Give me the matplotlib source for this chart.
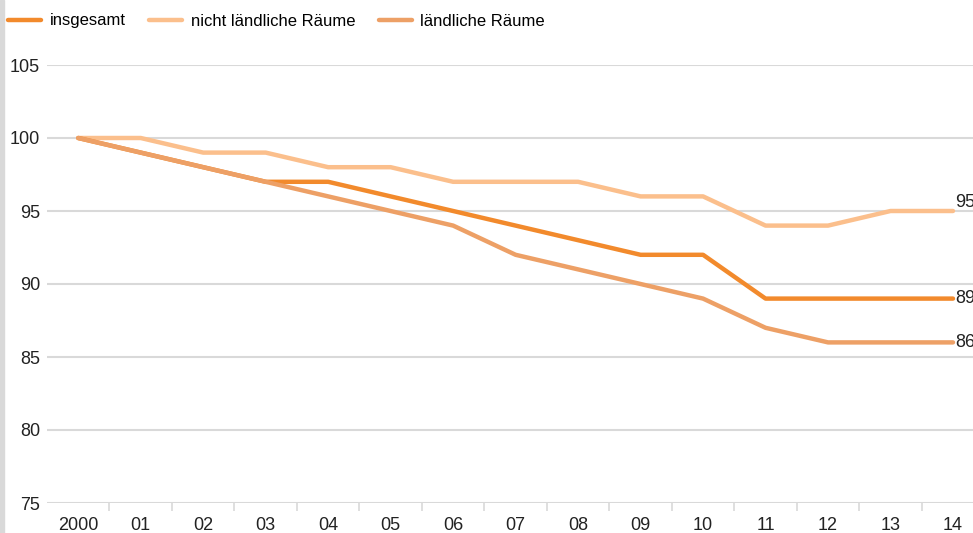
import matplotlib.pyplot as plt
from matplotlib.patches import Rectangle

plt.rcParams['font.family'] = ['Liberation Sans', 'DejaVu Sans']

# Index 2000 = 100
years = ['2000', '01', '02', '03', '04', '05', '06', '07', '08', '09', '10', '11', '12', '13', '14']
insgesamt = [100, 99, 98, 97, 97, 96, 95, 94, 93, 92, 92, 89, 89, 89, 89]
nicht_laendlich = [100, 100, 99, 99, 98, 98, 97, 97, 97, 96, 96, 94, 94, 95, 95]
laendlich = [100, 99, 98, 97, 96, 95, 94, 92, 91, 90, 89, 87, 86, 86, 86]
yticks = [75, 80, 85, 90, 95, 100, 105]

series = [
    ('insgesamt', insgesamt, '#f28a2c', 2),
    ('nicht ländliche Räume', nicht_laendlich, '#fbbf8c', 1),
    ('ländliche Räume', laendlich, '#eda066', 3),
]

fig = plt.figure(figsize=(9.73, 5.33), dpi=100)
fig.patches.append(Rectangle((0, 0), 4 / 973, 1, transform=fig.transFigure,
                             color='#d9d9d9', zorder=0))
ax = fig.add_axes([47 / 973, 1 - 503 / 533, 1 - 47 / 973, (503 - 65) / 533])

x = list(range(len(years)))
handles = []
for name, vals, col, z in series:
    h, = ax.plot(x, vals, color=col, lw=3.2, solid_capstyle='round',
                 solid_joinstyle='round', zorder=z, label=name)
    handles.append(h)

# value labels at the end of each line
offsets = {'insgesamt': 0, 'nicht ländliche Räume': 6, 'ländliche Räume': 0}
for name, vals, col, z in series:
    ax.annotate(str(vals[-1]), (x[-1], vals[-1]), xytext=(1.5, offsets[name]),
                textcoords='offset points', ha='left', va='center',
                fontsize=13, color='#222222', annotation_clip=False)

ax.set_xlim(-0.5, 14.32)
ax.set_ylim(75, 105)
ax.set_yticks(yticks)
ax.set_xticks(x)
ax.set_xticklabels(years)
ax.set_xticks([i + 0.5 for i in range(len(years) - 1)], minor=True)
ax.grid(axis='y', color='#d9d9d9', lw=1.5, zorder=0)
ax.set_axisbelow(True)
for s in ax.spines.values():
    s.set_visible(False)
ax.tick_params(axis='y', length=0, pad=5, labelsize=13, labelcolor='#222222')
ax.tick_params(axis='x', which='major', length=0, pad=10, labelsize=13,
               labelcolor='#222222')
ax.tick_params(axis='x', which='minor', length=6, width=1.2, color='#d9d9d9',
               direction='out')

fig.legend(handles=handles, loc='center left', bbox_to_anchor=(8 / 973, 1 - 21 / 533),
           ncol=3, frameon=False, fontsize=12, handlelength=2.0,
           handletextpad=0.5, columnspacing=1.4, borderaxespad=0, borderpad=0)

fig.savefig('out.png', dpi=100)
